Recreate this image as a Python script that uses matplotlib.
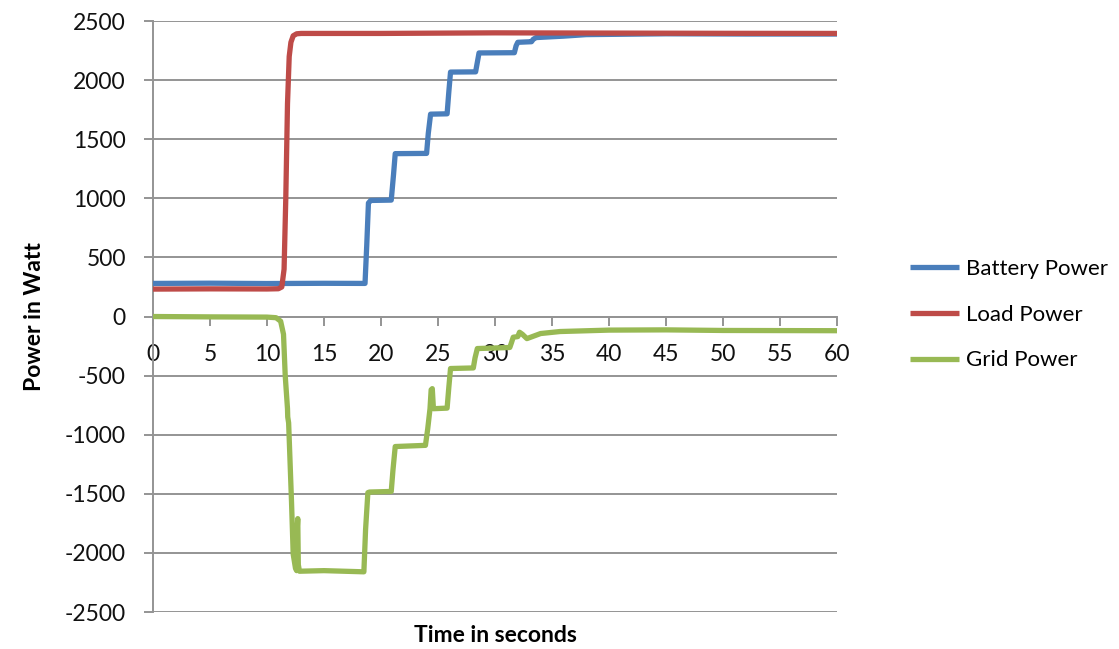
import matplotlib
matplotlib.use("Agg")
import matplotlib.pyplot as plt

plt.rcParams['font.family'] = ['Lato', 'DejaVu Sans']
plt.rcParams['axes.unicode_minus'] = False

# Measured power traces (time in s, power in W)
battery_t = [0, 5, 10, 15, 18.6, 18.75, 18.9, 19.1, 20.9, 21.1, 21.25, 24.0, 24.15, 24.35,
             25.8, 25.95, 26.1, 28.3, 28.45, 28.6, 31.7, 31.85, 32.0, 33.2, 33.35, 33.6,
             36.0, 38.0, 45.0, 52.0, 60.0]
battery_w = [280, 282, 279, 281, 280, 600, 960, 982, 985, 1200, 1378, 1380, 1550, 1712,
             1715, 1900, 2068, 2070, 2150, 2230, 2232, 2290, 2320, 2325, 2345, 2360,
             2372, 2385, 2392, 2390, 2390]

load_t = [0, 5, 10, 11.0, 11.3, 11.5, 11.65, 11.8, 11.95, 12.1, 12.3, 12.6, 13.0, 20.0,
          30.0, 40.0, 50.0, 60.0]
load_w = [232, 234, 233, 235, 250, 400, 1000, 1800, 2200, 2320, 2375, 2392, 2395, 2395,
          2400, 2398, 2396, 2395]

grid_t = [0, 5, 10, 10.8, 11.2, 11.45, 11.6, 11.8, 11.82, 11.9, 12.15, 12.3, 12.5, 12.6,
          12.65, 12.7, 12.75, 12.85, 15.0, 18.5, 18.65, 18.85, 19.0, 20.9, 21.05, 21.25,
          23.9, 24.1, 24.3, 24.4, 24.5, 24.6, 25.8, 25.95, 26.1, 28.1, 28.25, 28.45, 31.3,
          31.45, 31.6, 32.0, 32.15, 32.4, 32.8, 34.0, 35.7, 40.0, 45.0, 50.0, 60.0]
grid_w = [0, -3, -5, -10, -40, -150, -500, -780, -850, -900, -1560, -2010, -2130, -2150,
          -1800, -1710, -2100, -2155, -2150, -2160, -1800, -1490, -1485, -1480, -1300, -1100,
          -1090, -950, -780, -620, -610, -780, -775, -600, -440, -435, -350, -271, -262,
          -220, -175, -170, -133, -150, -187, -144, -127, -115, -113, -118, -120]

legend_names = ["Battery Power", "Load Power", "Grid Power"]
colors = ["#4A7EBB", "#BE4B48", "#98B954"]

x_ticks = list(range(0, 61, 5))
y_ticks = list(range(-2500, 2501, 500))

fig = plt.figure(figsize=(11.19, 6.49), dpi=100)
ax = fig.add_axes([0.1367, 0.057, 0.6113, 0.9106])

for (t, w), name, c in zip([(battery_t, battery_w), (load_t, load_w), (grid_t, grid_w)],
                           legend_names, colors):
    ax.plot(t, w, color=c, lw=3.8, label=name, solid_joinstyle='round',
            solid_capstyle='butt', zorder=3)

ax.set_xlim(0, 60)
ax.set_ylim(-2500, 2500)
ax.set_xticks(x_ticks)
ax.set_yticks(y_ticks)

grid_color = "#949494"
ax.yaxis.grid(True, color=grid_color, lw=1.4)
ax.set_axisbelow(True)
for side in ("top", "right"):
    ax.spines[side].set_visible(False)
ax.spines["bottom"].set_position(("data", 0))
ax.spines["bottom"].set_color(grid_color)
ax.spines["left"].set_color(grid_color)
ax.spines["bottom"].set_linewidth(1.4)
ax.spines["left"].set_linewidth(1.4)

ax.tick_params(axis="both", colors=grid_color, labelcolor="#111111", labelsize=16.5,
               width=1.4, length=6.5)
ax.tick_params(axis="x", direction="out", pad=13)
ax.tick_params(axis="y", direction="out", pad=13)

ax.set_ylabel("Power in Watt", fontsize=16.5, fontweight="bold", labelpad=14)
fig.text(0.4425, 1 - 635 / 649, "Time in seconds", fontsize=16.5, fontweight="bold",
         ha="center", va="center")

fig.legend(loc="center left", bbox_to_anchor=(0.813, 0.515), frameon=False,
           fontsize=16, handlelength=2.2, handletextpad=0.35, labelspacing=1.15,
           borderpad=0, borderaxespad=0)

fig.savefig("out.png", dpi=100)
